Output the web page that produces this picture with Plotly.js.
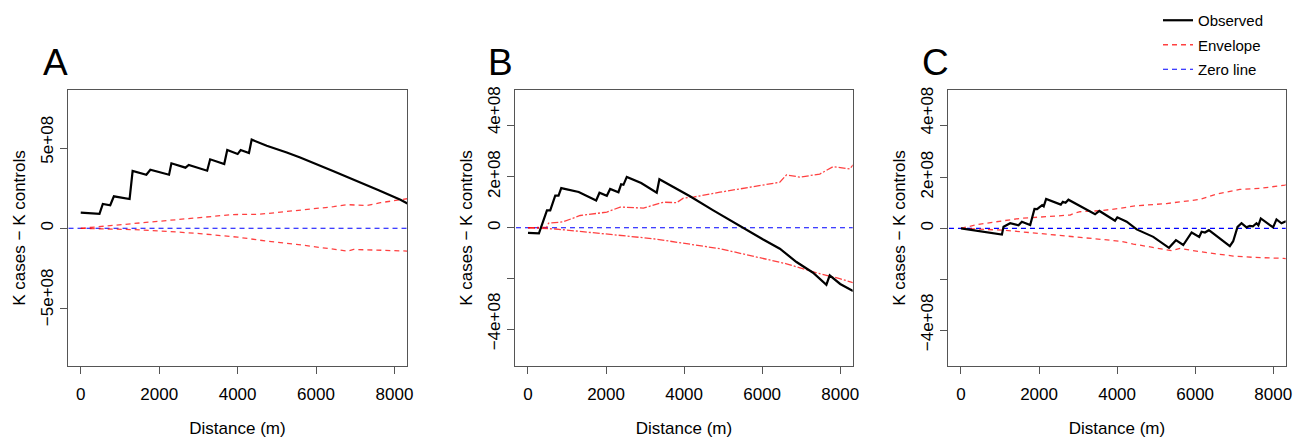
<!DOCTYPE html>
<html>
<head>
<meta charset="utf-8">
<script src="https://cdn.plot.ly/plotly-3.0.1.min.js"></script>
<style>html,body{margin:0;padding:0;background:#fff;}#chart{width:1305px;height:439px;}</style>
</head>
<body>
<div id="chart"></div>
<script>
// ---- data (y values in units of 1e8) ----
var A_obs_x = [0,478,563,752,845,1246,1323,1673,1775,2252,2312,2670,2755,3224,3300,3659,3736,4001,4078,4290,4359,4743,5254,5595,6447,7301,7598,8153,8330];
var A_obs_y = [0.98,0.91,1.52,1.44,2.0,1.83,3.58,3.35,3.66,3.35,4.06,3.79,3.96,3.6,4.31,4.02,4.89,4.64,4.89,4.7,5.54,5.16,4.74,4.42,3.56,2.72,2.38,1.78,1.55];
var A_up_x = [0,563,1330,2013,2269,3037,3888,4570,5595,6447,6789,6960,7301,7641,8238,8330];
var A_up_y = [0,0.12,0.3,0.46,0.52,0.66,0.86,0.88,1.12,1.35,1.48,1.45,1.42,1.6,1.78,1.85];
var A_lo_x = [0,1330,2269,3037,4000,4743,5500,6021,6500,6800,6960,7500,8330];
var A_lo_y = [0,-0.08,-0.2,-0.33,-0.55,-0.8,-1.0,-1.15,-1.3,-1.42,-1.32,-1.35,-1.42];

var B_obs_x = [0,281,486,570,698,783,852,1300,1747,1832,2020,2105,2318,2386,2446,2532,2900,3299,3367,4151,4747,5174,5558,6026,6453,6880,7304,7560,7646,7731,8000,8330];
var B_obs_y = [-0.2,-0.22,0.68,0.68,1.26,1.26,1.55,1.40,1.07,1.37,1.25,1.52,1.39,1.7,1.68,1.99,1.75,1.37,1.9,1.23,0.68,0.29,-0.04,-0.46,-0.82,-1.34,-1.76,-2.1,-2.23,-1.86,-2.2,-2.48];
var B_up_x = [0,480,527,900,1338,1700,2020,2361,2957,3469,3810,3980,4236,4918,5770,6453,6624,6964,7476,7816,8243,8330];
var B_up_y = [0,0.02,0.18,0.23,0.48,0.55,0.61,0.81,0.77,1.0,0.98,1.16,1.2,1.39,1.59,1.78,2.07,1.98,2.1,2.39,2.3,2.46];
var B_lo_x = [0,700,1509,3213,4918,6624,7476,7987,8330];
var B_lo_y = [0,-0.05,-0.17,-0.43,-0.82,-1.41,-1.8,-1.99,-2.15];

var C_obs_x = [0,1049,1090,1261,1474,1560,1773,1883,1950,2080,2120,2182,2558,2609,2680,2753,3436,3546,3947,4006,4246,4502,4927,5329,5508,5695,5910,6104,6165,6250,6352,6889,6974,7086,7188,7316,7400,7480,7572,7620,7682,7997,8084,8212,8296,8330];
var C_obs_y = [0,-0.24,0.06,0.2,0.12,0.26,0.13,0.76,0.75,0.91,0.86,1.15,0.93,1.04,1.0,1.12,0.55,0.68,0.30,0.43,0.26,-0.04,-0.33,-0.76,-0.46,-0.65,-0.16,-0.33,-0.13,-0.16,-0.07,-0.69,-0.5,0.06,0.2,0.04,0.1,0.08,0.2,0.12,0.39,0.04,0.35,0.2,0.26,0.28];
var C_up_x = [0,451,1517,2796,2881,3052,3564,4075,4417,5269,6122,6549,7145,7657,8296,8330];
var C_up_y = [0,0.16,0.39,0.52,0.58,0.65,0.69,0.78,0.87,0.97,1.13,1.34,1.52,1.56,1.69,1.7];
var C_lo_x = [0,1091,2029,2881,3564,4075,4417,5269,5397,5610,6122,6974,7486,8253,8330];
var C_lo_y = [0,-0.07,-0.2,-0.33,-0.43,-0.5,-0.61,-0.82,-0.87,-0.78,-0.91,-1.08,-1.13,-1.17,-1.18];

var ZERO_X = [-1000, 9000];
var ZERO_Y = [0, 0];

var X_TICKS = [0,2000,4000,6000,8000];
var A_Y_TICKS = [-5e8, 0, 5e8];
var A_Y_TEXT = ['\u2003\u22125e+08','0','\u2002\u20095e+08'];
var BC_Y_TICKS = [-4e8,-2e8,0,2e8,4e8];
var BC_Y_TEXT = ['\u2002\u2009\u22124e+08','','0','2e+08','\u2002\u2002\u20024e+08'];
var PANEL_LABELS = ['A','B','C'];

var SCALE = 1e8;
function sc(a){ return a.map(function(v){ return v*SCALE; }); }

// ---- styling ----
var W = 1305, H = 439;
var FONT = '"Liberation Sans", Arial, Helvetica, sans-serif';
function OBS(){ return {color:'#000000', width:2.2}; }
function ENV(){ return {color:'rgba(255,0,0,0.75)', width:1.3, dash:'5px,4px'}; }
function ENVB(){ return {color:'rgba(255,0,0,0.75)', width:1.3, dash:'7px,2px,2px,2px'}; }
function ZL(){ return {color:'#0000ff', width:1.1, dash:'5px,4px'}; }

var panels = [
  {obs:[A_obs_x,A_obs_y], up:[A_up_x,A_up_y], lo:[A_lo_x,A_lo_y], px:[68,407], yr:[-8.6e8,8.64e8], yt:A_Y_TICKS, ytt:A_Y_TEXT, env:ENV},
  {obs:[B_obs_x,B_obs_y], up:[B_up_x,B_up_y], lo:[B_lo_x,B_lo_y], px:[515.3,852.7], yr:[-5.41e8,5.39e8], yt:BC_Y_TICKS, ytt:BC_Y_TEXT, env:ENVB},
  {obs:[C_obs_x,C_obs_y], up:[C_up_x,C_up_y], lo:[C_lo_x,C_lo_y], px:[948.3,1285.7], yr:[-5.37e8,5.4e8], yt:BC_Y_TICKS, ytt:BC_Y_TEXT, env:ENV}
];
var boxTop = 90, boxBot = 366;

var data = [];
var layout = {
  width:W, height:H,
  margin:{l:0,r:0,t:0,b:0},
  paper_bgcolor:'#fff', plot_bgcolor:'#fff',
  font:{family:FONT, color:'#000', size:17},
  showlegend:true,
  legend:{x:1158/W, xanchor:'left', y:1-4/H, yanchor:'top', font:{size:15, family:FONT}, bgcolor:'rgba(0,0,0,0)', itemwidth:30, tracegroupgap:2},
  annotations:[]
};

panels.forEach(function(p, i){
  var xa = 'x'+(i?i+1:''), ya = 'y'+(i?i+1:'');
  var xk = 'xaxis'+(i?i+1:''), yk = 'yaxis'+(i?i+1:'');
  layout[xk] = {
    domain:[p.px[0]/W, p.px[1]/W], anchor:ya, range:[-325, 8320],
    tickvals:X_TICKS, ticktext:X_TICKS.map(String),
    ticks:'outside', ticklen:7, tickwidth:1, tickcolor:'#555',
    showline:true, mirror:true, linecolor:'#555', linewidth:1.2,
    showgrid:false, zeroline:false,
    tickfont:{size:17}, ticklabelstandoff:5,
    title:{text:'Distance (m)', font:{size:17}, standoff:19}
  };
  layout[yk] = {
    domain:[1-boxBot/H, 1-boxTop/H], anchor:xa, range:p.yr,
    tickvals:p.yt, ticktext:p.ytt, tickangle:-90,
    ticks:'outside', ticklen:7, tickwidth:1, tickcolor:'#555',
    showline:true, mirror:true, linecolor:'#555', linewidth:1.2,
    showgrid:false, zeroline:false,
    tickfont:{size:17}, ticklabelstandoff:0,
    title:{text:'K cases \u2212 K controls', font:{size:17}, standoff:8}
  };
  data.push({type:'scatter', mode:'lines', x:ZERO_X, y:ZERO_Y, xaxis:xa, yaxis:ya, line:ZL(), name:'Zero line', legendgroup:'z', legendrank:3, showlegend:i===0, hoverinfo:'skip'});
  data.push({type:'scatter', mode:'lines', x:p.up[0], y:sc(p.up[1]), xaxis:xa, yaxis:ya, line:p.env(), name:'Envelope', legendgroup:'e', legendrank:2, showlegend:i===0, hoverinfo:'skip'});
  data.push({type:'scatter', mode:'lines', x:p.lo[0], y:sc(p.lo[1]), xaxis:xa, yaxis:ya, line:p.env(), name:'Envelope', legendgroup:'e', showlegend:false, hoverinfo:'skip'});
  data.push({type:'scatter', mode:'lines', x:p.obs[0], y:sc(p.obs[1]), xaxis:xa, yaxis:ya, line:OBS(), name:'Observed', legendgroup:'o', legendrank:1, showlegend:i===0, hoverinfo:'skip'});
  var lx = [55, 500, 935][i];
  layout.annotations.push({text:PANEL_LABELS[i], xref:'paper', yref:'paper', x:lx/W, y:1-63/H, xanchor:'center', yanchor:'middle', showarrow:false, font:{size:37, family:FONT, color:'#000'}});
});

Plotly.newPlot('chart', data, layout, {staticPlot:true, displayModeBar:false});
</script>
</body>
</html>
